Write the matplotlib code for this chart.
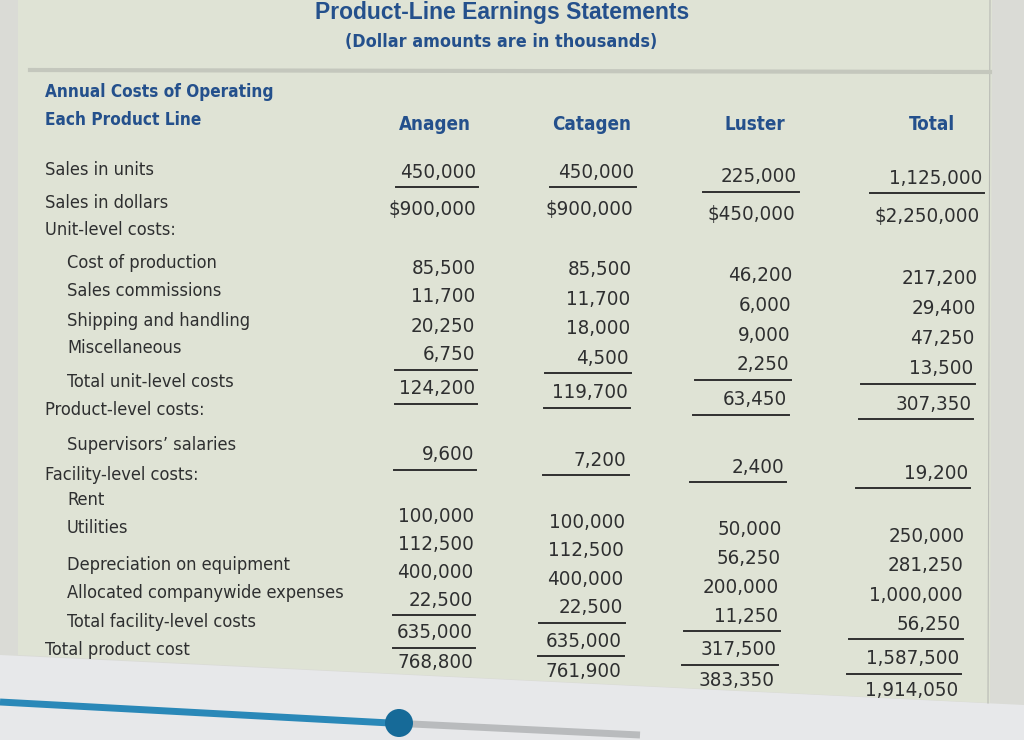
import matplotlib
matplotlib.use("Agg")
import matplotlib.pyplot as plt
from matplotlib import font_manager as fm
from matplotlib.patches import Polygon, Circle

# ---------------- data ----------------
title = "Product-Line Earnings Statements"
subtitle = "(Dollar amounts are in thousands)"
header_lines = ["Annual Costs of Operating", "Each Product Line"]
columns = ["Anagen", "Catagen", "Luster", "Total"]

row_labels = ["Sales in units", "Sales in dollars", "Unit-level costs:",
              "Cost of production", "Sales commissions", "Shipping and handling",
              "Miscellaneous", "Total unit-level costs", "Product-level costs:",
              "Supervisors\u2019 salaries", "Facility-level costs:", "Rent", "Utilities",
              "Depreciation on equipment", "Allocated companywide expenses",
              "Total facility-level costs", "Total product cost"]
row_indent = [0, 0, 0, 1, 1, 1, 1, 1, 0, 1, 0, 1, 1, 1, 1, 1, 0]

anagen = ["450,000", "$900,000", "85,500", "11,700", "20,250", "6,750", "124,200",
          "9,600", "100,000", "112,500", "400,000", "22,500", "635,000", "768,800"]
catagen = ["450,000", "$900,000", "85,500", "11,700", "18,000", "4,500", "119,700",
           "7,200", "100,000", "112,500", "400,000", "22,500", "635,000", "761,900"]
luster = ["225,000", "$450,000", "46,200", "6,000", "9,000", "2,250", "63,450",
          "2,400", "50,000", "56,250", "200,000", "11,250", "317,500", "383,350"]
total = ["1,125,000", "$2,250,000", "217,200", "29,400", "47,250", "13,500", "307,350",
         "19,200", "250,000", "281,250", "1,000,000", "56,250", "1,587,500", "1,914,050"]
underlined_after = [0, 5, 6, 7, 11, 12]

# ---------------- layout ----------------
W, H = 1024, 740
label_y = [170, 203, 230, 263, 291, 321, 348, 382, 410, 445, 475, 500, 528,
           565, 593, 622, 650]
value_base_y = [172, 209, 268, 297, 326, 355, 389, 455, 516, 544, 572, 600, 633, 663]
# per column: (y offset, y scale, x_right top, x_right bottom, underline width, header x)
col_layout = [(0, 1.000, 476, 473, 82, 435),
              (0, 1.018, 634, 621, 86, 592),
              (5, 1.026, 797, 775, 96, 755),
              (6, 1.043, 982, 958, 114, 932)]

names = {f.name for f in fm.fontManager.ttflist}
if "Liberation Sans Narrow" in names:
    COND = dict(family="Liberation Sans Narrow")
    k = 1.0
else:
    COND = dict(family="DejaVu Sans", stretch="condensed")
    k = 0.9
BODY = "#2e2f30"
BLUE = "#24508c"

fig = plt.figure(figsize=(W / 100, H / 100), dpi=100)
ax = fig.add_axes([0, 0, 1, 1])
ax.set_xlim(0, W)
ax.set_ylim(H, 0)
ax.axis("off")
fig.patch.set_facecolor("#e7e8ea")

# page / table background
ax.add_patch(Polygon([(0, 0), (W, 0), (W, 705), (0, 655)], closed=True,
                     facecolor="#dadbd6", edgecolor="none", zorder=0))
ax.add_patch(Polygon([(18, 0), (992, 0), (990, 703), (18, 655)], closed=True,
                     facecolor="#dfe3d5", edgecolor="none", zorder=0))
ax.plot([990, 988], [0, 703], color="#b8bab4", lw=0.8, zorder=1)
ax.plot([30, 990], [70, 72], color="#c4c7bd", lw=3, zorder=1)

# slider
ax.plot([0, 390], [702, 723], color="#2a88b8", lw=5, solid_capstyle="butt", zorder=2)
ax.plot([412, 640], [724, 735], color="#b9bbbd", lw=5, solid_capstyle="butt", zorder=2)
ax.add_patch(Circle((399, 723), 14, facecolor="#166a98", edgecolor="none", zorder=3))

# titles
ax.text(502, 13, title, ha="center", va="center", fontsize=16.5,
        fontweight="bold", family="Liberation Sans", color=BLUE)
ax.text(501, 42, subtitle, ha="center", va="center", fontsize=14.3 * k,
        fontweight="semibold", color=BLUE, **COND)
ax.text(45, 92, header_lines[0], ha="left", va="center", fontsize=13.7 * k,
        fontweight="bold", color=BLUE, **COND)
ax.text(45, 120, header_lines[1], ha="left", va="center", fontsize=13.7 * k,
        fontweight="bold", color=BLUE, **COND)

for name, lay in zip(columns, col_layout):
    ax.text(lay[5], 125, name, ha="center", va="center", fontsize=15 * k,
            fontweight="bold", color=BLUE, **COND)

# row labels
for lab, ind, y in zip(row_labels, row_indent, label_y):
    ax.text(45 + 22 * ind, y, lab, ha="left", va="center", fontsize=14.5 * k,
            color=BODY, **COND)

# values
y0, y1 = value_base_y[0], value_base_y[-1]
for vals, (dy, sc, xt, xb, uw, _) in zip([anagen, catagen, luster, total], col_layout):
    ys = [y0 + dy + sc * (b - y0) for b in value_base_y]
    xs = [xt + (xb - xt) * (b - y0) / (y1 - y0) for b in value_base_y]
    for v, x, y in zip(vals, xs, ys):
        ax.text(x, y, v, ha="right", va="center", fontsize=16.3 * k, color=BODY,
                **COND)
    for i in underlined_after:
        yu = ys[i] + 15
        xu = xs[i] + 2
        ax.plot([xu - uw, xu], [yu, yu], color="#303030", lw=1.4, zorder=2)

fig.savefig("out.png", dpi=100, facecolor=fig.get_facecolor())
